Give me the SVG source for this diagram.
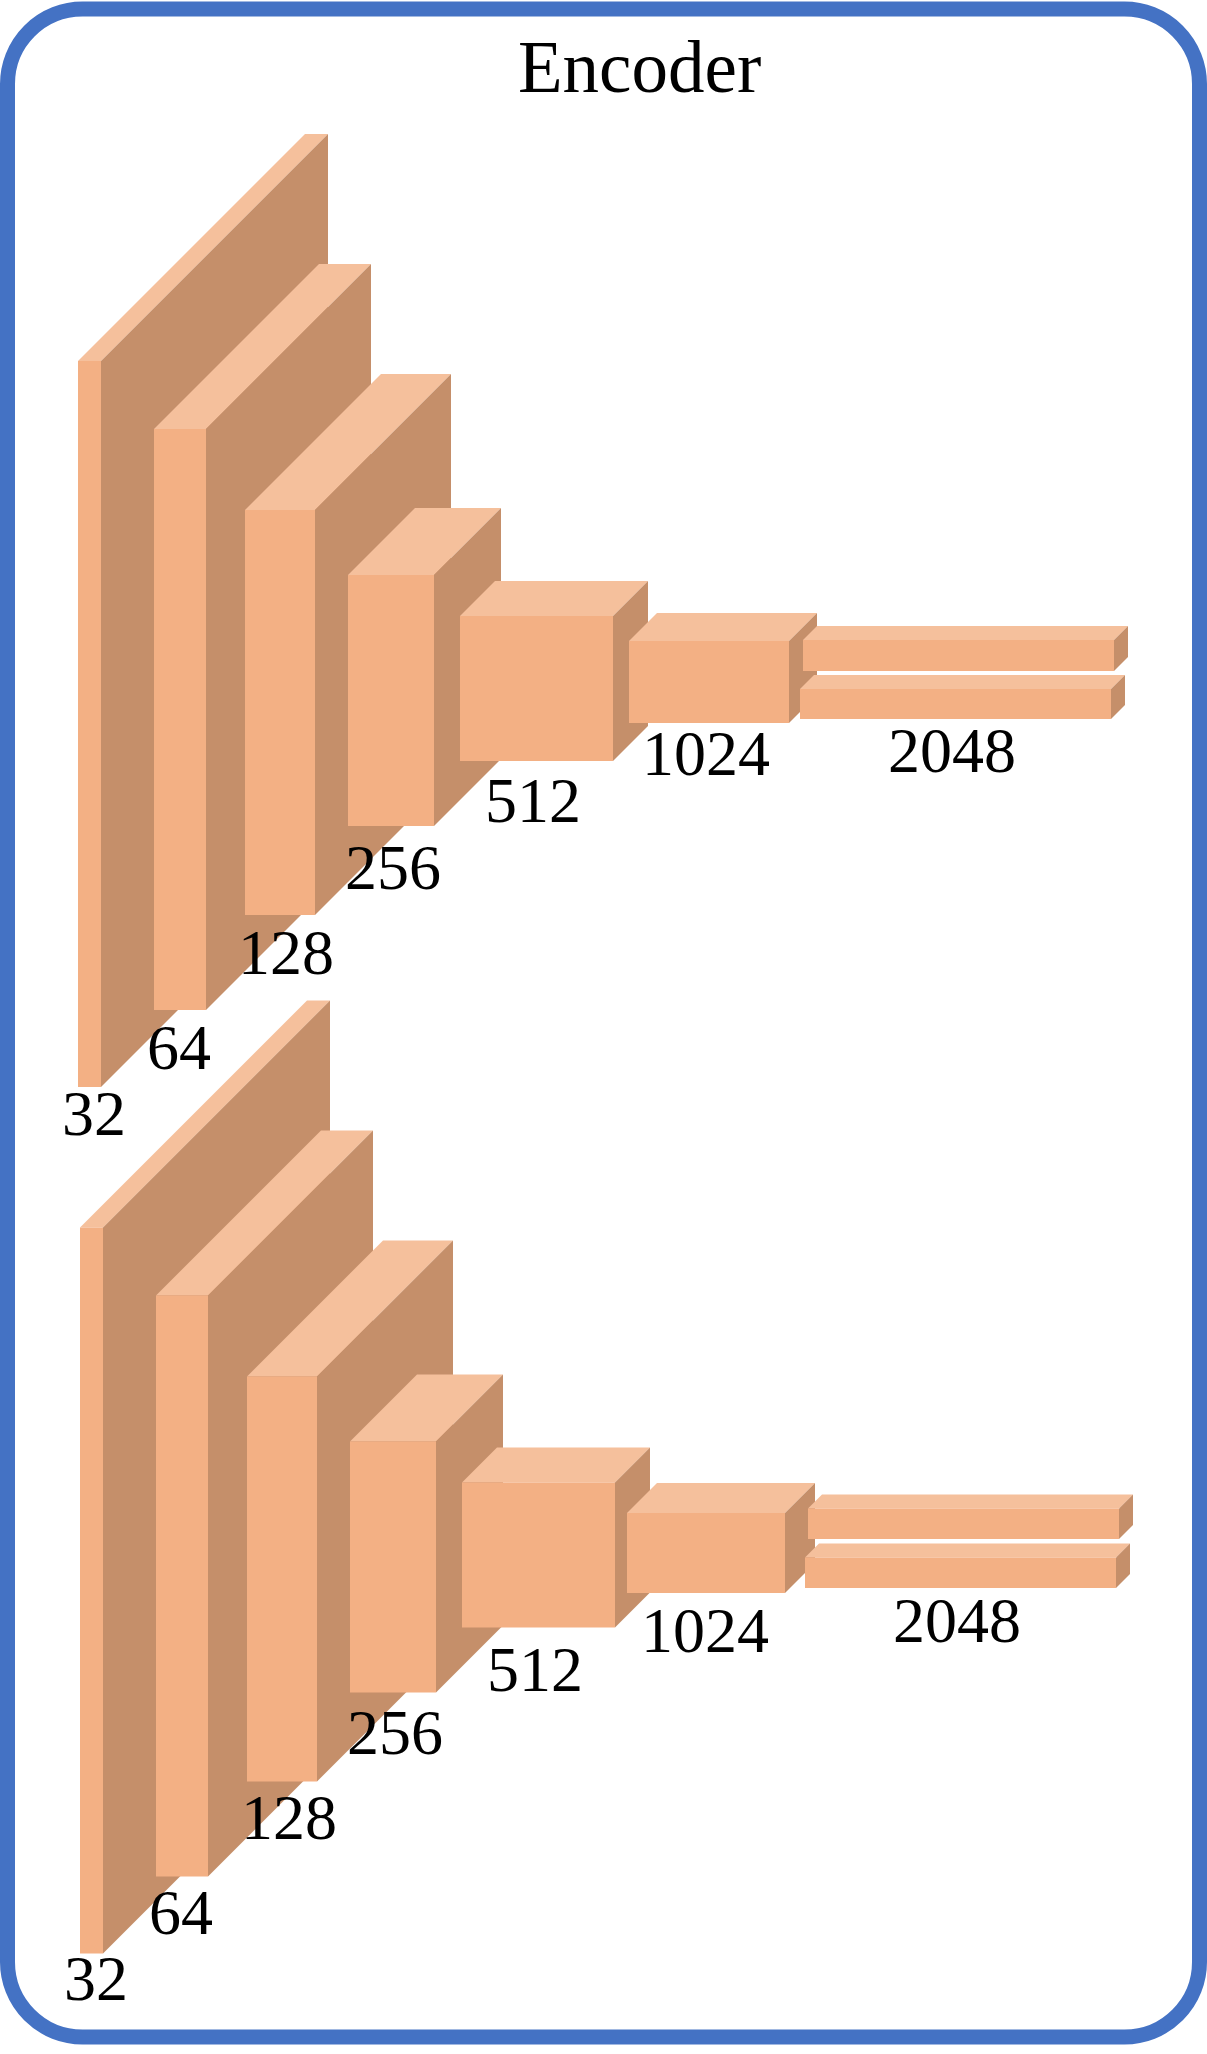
<svg xmlns="http://www.w3.org/2000/svg" width="1207" height="2054" viewBox="0 0 1207 2054">
<style>
.top{fill:#F5C09C}
.side{fill:#C58F6A}
.front{fill:#F3B084}
.lbl{font-family:"Liberation Serif","Times New Roman",serif;font-size:64px;fill:#000}
.title{font-family:"Liberation Serif","Times New Roman",serif;font-size:73px;fill:#000}
</style>
<rect width="1207" height="2054" fill="#fff"/>
<g id="frame">
<rect x="7.5" y="9" width="1192" height="2028" rx="75" ry="75" fill="none" stroke="#4472C4" stroke-width="15"/>
<text class="title" x="518" y="92">Encoder</text>
</g>
<g id="connectors"/>

<!-- Upper encoder -->
<g id="enc1-b32">
<polygon class="top" points="78,361 305,134 328,134 101,361"/>
<polygon class="side" points="101,361 328,134 328,860 101,1087"/>
<rect class="front" x="78" y="361" width="23" height="726"/>
<text class="lbl" x="62" y="1135">32</text>
</g>
<g id="enc1-b64">
<polygon class="top" points="154,429 319,264 371,264 206,429"/>
<polygon class="side" points="206,429 371,264 371,845 206,1010"/>
<rect class="front" x="154" y="429" width="52" height="581"/>
<text class="lbl" x="147" y="1069">64</text>
</g>
<g id="enc1-b128">
<polygon class="top" points="245,510 381,374 451,374 315,510"/>
<polygon class="side" points="315,510 451,374 451,779 315,915"/>
<rect class="front" x="245" y="510" width="70" height="405"/>
<text class="lbl" x="238" y="974">128</text>
</g>
<g id="enc1-b256">
<polygon class="top" points="348,575 415,508 501,508 434,575"/>
<polygon class="side" points="434,575 501,508 501,759 434,826"/>
<rect class="front" x="348" y="575" width="86" height="251"/>
<text class="lbl" x="345" y="889">256</text>
</g>
<g id="enc1-b512">
<polygon class="top" points="460,616 495,581 648,581 613,616"/>
<polygon class="side" points="613,616 648,581 648,726 613,761"/>
<rect class="front" x="460" y="616" width="153" height="145"/>
<text class="lbl" x="485" y="822">512</text>
</g>
<g id="enc1-b1024">
<polygon class="top" points="629,641 657,613 817,613 789,641"/>
<polygon class="side" points="789,641 817,613 817,695 789,723"/>
<rect class="front" x="629" y="641" width="160" height="82"/>
<text class="lbl" x="642" y="775">1024</text>
</g>
<g id="enc1-b2048">
<polygon class="top" points="803,640 817,626 1128,626 1114,640"/>
<polygon class="side" points="1114,640 1128,626 1128,657 1114,671"/>
<rect class="front" x="803" y="640" width="311" height="31"/>
<polygon class="top" points="800,689 814,675 1125,675 1111,689"/>
<polygon class="side" points="1111,689 1125,675 1125,705 1111,719"/>
<rect class="front" x="800" y="689" width="311" height="30"/>
<text class="lbl" x="888" y="772">2048</text>
</g>

<!-- Lower encoder -->
<g id="enc2-b32">
<g transform="translate(2 866.5)">
<polygon class="top" points="78,361 305,134 328,134 101,361"/>
<polygon class="side" points="101,361 328,134 328,860 101,1087"/>
<rect class="front" x="78" y="361" width="23" height="726"/>
</g>
<text class="lbl" x="64" y="2000">32</text>
</g>
<g id="enc2-b64">
<g transform="translate(2 866.5)">
<polygon class="top" points="154,429 319,264 371,264 206,429"/>
<polygon class="side" points="206,429 371,264 371,845 206,1010"/>
<rect class="front" x="154" y="429" width="52" height="581"/>
</g>
<text class="lbl" x="149" y="1934">64</text>
</g>
<g id="enc2-b128">
<g transform="translate(2 866.5)">
<polygon class="top" points="245,510 381,374 451,374 315,510"/>
<polygon class="side" points="315,510 451,374 451,779 315,915"/>
<rect class="front" x="245" y="510" width="70" height="405"/>
</g>
<text class="lbl" x="241" y="1839">128</text>
</g>
<g id="enc2-b256">
<g transform="translate(2 866.5)">
<polygon class="top" points="348,575 415,508 501,508 434,575"/>
<polygon class="side" points="434,575 501,508 501,759 434,826"/>
<rect class="front" x="348" y="575" width="86" height="251"/>
</g>
<text class="lbl" x="347" y="1754">256</text>
</g>
<g id="enc2-b512">
<g transform="translate(2 866.5)">
<polygon class="top" points="460,616 495,581 648,581 613,616"/>
<polygon class="side" points="613,616 648,581 648,726 613,761"/>
<rect class="front" x="460" y="616" width="153" height="145"/>
</g>
<text class="lbl" x="487" y="1691">512</text>
</g>
<g id="enc2-b1024">
<polygon class="top" points="627,1513 657,1483 815,1483 785,1513"/>
<polygon class="side" points="785,1513 815,1483 815,1563 785,1593"/>
<rect class="front" x="627" y="1513" width="158" height="80"/>
<text class="lbl" x="641" y="1652">1024</text>
</g>
<g id="enc2-b2048">
<polygon class="top" points="808,1508.5 822,1494.5 1133,1494.5 1119,1508.5"/>
<polygon class="side" points="1119,1508.5 1133,1494.5 1133,1525 1119,1539"/>
<rect class="front" x="808" y="1508.5" width="311" height="30.5"/>
<polygon class="top" points="805,1557.5 819,1543.5 1130,1543.5 1116,1557.5"/>
<polygon class="side" points="1116,1557.5 1130,1543.5 1130,1574 1116,1588"/>
<rect class="front" x="805" y="1557.5" width="311" height="30.5"/>
<text class="lbl" x="893" y="1642">2048</text>
</g>
</svg>
